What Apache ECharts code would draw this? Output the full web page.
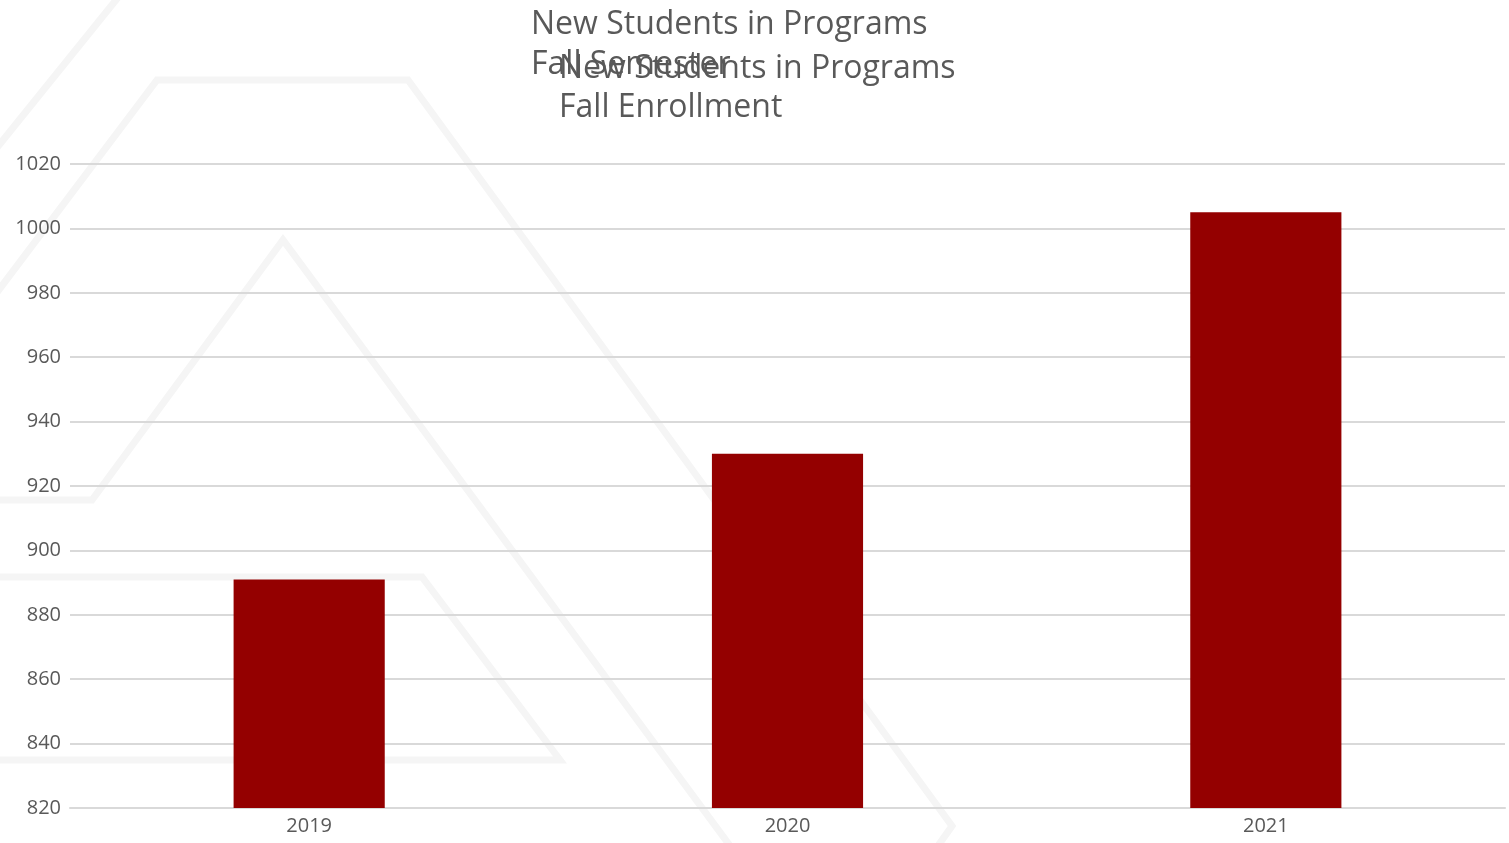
<!DOCTYPE html>
<html>
<head>
<meta charset="utf-8">
<script src="https://cdn.jsdelivr.net/npm/echarts@6/dist/echarts.min.js"></script>
<style>
html,body{margin:0;padding:0;background:#fff;}
#chart{width:1509px;height:843px;}
</style>
</head>
<body>
<div id="chart"></div>
<script>
const categories = ['2019', '2020', '2021'];
const newStudents = [891, 930, 1005];
const yTicks = { min: 820, max: 1020, interval: 20 };
const titleA = 'New Students in Programs\nFall Semester';
const titleB = 'New Students in Programs\nFall Enrollment';

const chart = echarts.init(document.getElementById('chart'));
const wm = { stroke: '#f5f5f5', lineWidth: 7, fill: null, lineJoin: 'miter' };
const FONT = 'Open Sans';
chart.setOption({
  backgroundColor: '#ffffff',
  animation: false,
  graphic: [
    { type: 'polyline', z: -10, silent: true, shape: { points: [[120, -5], [-5, 150]] }, style: wm },
    { type: 'polyline', z: -10, silent: true, shape: { points: [[-5, 295], [157, 80], [408, 80], [952, 826], [935, 850]] }, style: wm },
    { type: 'polyline', z: -10, silent: true, shape: { points: [[-5, 500], [92, 500], [283, 240], [770, 900]] }, style: wm },
    { type: 'polyline', z: -10, silent: true, shape: { points: [[-5, 577], [422, 577], [560, 760], [-5, 760]] }, style: wm }
  ],
  title: [
    { text: titleA, left: 526, top: 0, textStyle: { fontFamily: FONT, fontSize: 32, fontWeight: 'normal', color: '#595959', lineHeight: 40 } },
    { text: titleB, left: 554, top: 44, textStyle: { fontFamily: FONT, fontSize: 32, fontWeight: 'normal', color: '#595959', lineHeight: 39 } }
  ],
  grid: { left: 70, right: 4, top: 164, bottom: 35, containLabel: false },
  xAxis: {
    type: 'category',
    data: categories,
    axisLine: { show: true, lineStyle: { color: '#d9d9d9', width: 2 } },
    axisTick: { show: false },
    axisLabel: { fontFamily: FONT, fontSize: 20, color: '#595959', margin: 8 }
  },
  yAxis: {
    type: 'value',
    min: yTicks.min, max: yTicks.max, interval: yTicks.interval,
    axisLine: { show: false },
    axisTick: { show: false },
    splitLine: { lineStyle: { color: '#d9d9d9', width: 2 } },
    axisLabel: { fontFamily: FONT, fontSize: 20, color: '#595959', margin: 9, formatter: v => String(v) }
  },
  series: [{
    type: 'bar',
    data: newStudents,
    barWidth: '31.6%',
    itemStyle: { color: '#940000' }
  }]
});
</script>
</body>
</html>
